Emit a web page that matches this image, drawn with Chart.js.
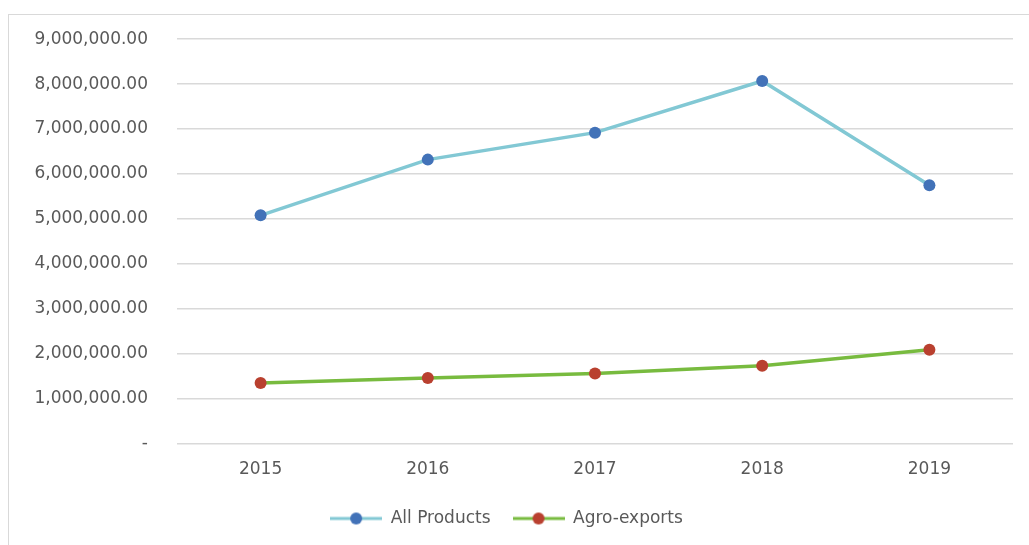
<!DOCTYPE html>
<html>
<head>
<meta charset="utf-8">
<script src="https://cdn.jsdelivr.net/npm/chart.js@4.4.1/dist/chart.umd.min.js"></script>
<style>
    body { margin: 0; background: #fff; }
    .chart-container { position: relative; width: 1029px; height: 545px; overflow: hidden; }
    .chart-frame { position: absolute; left: 8px; top: 14px; width: 1040px; height: 560px; border: 1px solid #d9d9d9; box-sizing: border-box; }
    canvas { position: absolute; left: 0; top: 0; }
</style>
</head>
<body>
<div class="chart-container">
    <div class="chart-frame"></div>
    <canvas id="exportsChart" width="1029" height="545"></canvas>
</div>
<script>
const years = ["2015", "2016", "2017", "2018", "2019"];
const allProducts = [5080000, 6320000, 6920000, 8070000, 5750000];
const agroExports = [1350000, 1460000, 1560000, 1730000, 2090000];
const yTicks = [0, 1000000, 2000000, 3000000, 4000000, 5000000, 6000000, 7000000, 8000000, 9000000];

const textColor = "#595959";
const gridColor = "#d9d9d9";
const fontFamily = "'DejaVu Sans', sans-serif";

// legend marker: a short line with a dot in the middle, like the office legend
function makeLegendMarker(lineColor, dotColor) {
    const c = document.createElement("canvas");
    c.width = 52;
    c.height = 14;
    const ctx = c.getContext("2d");
    ctx.strokeStyle = lineColor;
    ctx.lineWidth = 3;
    ctx.beginPath();
    ctx.moveTo(0, 7);
    ctx.lineTo(52, 7);
    ctx.stroke();
    ctx.fillStyle = dotColor;
    ctx.beginPath();
    ctx.arc(26, 7, 6, 0, Math.PI * 2);
    ctx.fill();
    return c;
}

const seriesStyles = [
    { line: "#82c8d4", dot: "#4272b8" },
    { line: "#78bb3f", dot: "#b9402f" },
];

const ctx = document.getElementById("exportsChart").getContext("2d");

new Chart(ctx, {
    type: "line",
    data: {
        labels: years,
        datasets: [
            {
                label: "All Products",
                data: allProducts,
                borderColor: seriesStyles[0].line,
                backgroundColor: seriesStyles[0].dot,
                pointBackgroundColor: seriesStyles[0].dot,
                pointBorderColor: seriesStyles[0].dot,
            },
            {
                label: "Agro-exports",
                data: agroExports,
                borderColor: seriesStyles[1].line,
                backgroundColor: seriesStyles[1].dot,
                pointBackgroundColor: seriesStyles[1].dot,
                pointBorderColor: seriesStyles[1].dot,
            },
        ].map((ds) => ({
            ...ds,
            borderWidth: 3.5,
            pointRadius: 6,
            pointBorderWidth: 0,
            tension: 0,
            fill: false,
        })),
    },
    options: {
        responsive: false,
        animation: false,
        layout: { padding: { top: 32, right: 16, bottom: 8, left: 0 } },
        plugins: {
            tooltip: { enabled: false },
            legend: {
                position: "bottom",
                labels: {
                    color: textColor,
                    font: { family: fontFamily, size: 17 },
                    usePointStyle: true,
                    pointStyleWidth: 52,
                    padding: 22,
                    generateLabels(chart) {
                        const items = Chart.defaults.plugins.legend.labels.generateLabels(chart);
                        items.forEach((item, i) => {
                            item.pointStyle = makeLegendMarker(seriesStyles[i].line, seriesStyles[i].dot);
                        });
                        return items;
                    },
                },
            },
        },
        scales: {
            x: {
                offset: true,
                grid: { display: false },
                border: { display: false },
                ticks: {
                    color: textColor,
                    font: { family: fontFamily, size: 17 },
                    padding: 8,
                },
            },
            y: {
                min: 0,
                max: 9000000,
                afterBuildTicks(scale) {
                    scale.ticks = yTicks.map((v) => ({ value: v }));
                },
                afterFit(scale) {
                    scale.width = 177;
                },
                grid: { color: gridColor, lineWidth: 1.5, drawTicks: false },
                border: { display: false },
                ticks: {
                    color: textColor,
                    font: { family: fontFamily, size: 17 },
                    padding: 29,
                    callback: (v) =>
                        v === 0 ? "-" : v.toLocaleString("en-US", { minimumFractionDigits: 2, maximumFractionDigits: 2 }),
                },
            },
        },
    },
});
</script>
</body>
</html>
